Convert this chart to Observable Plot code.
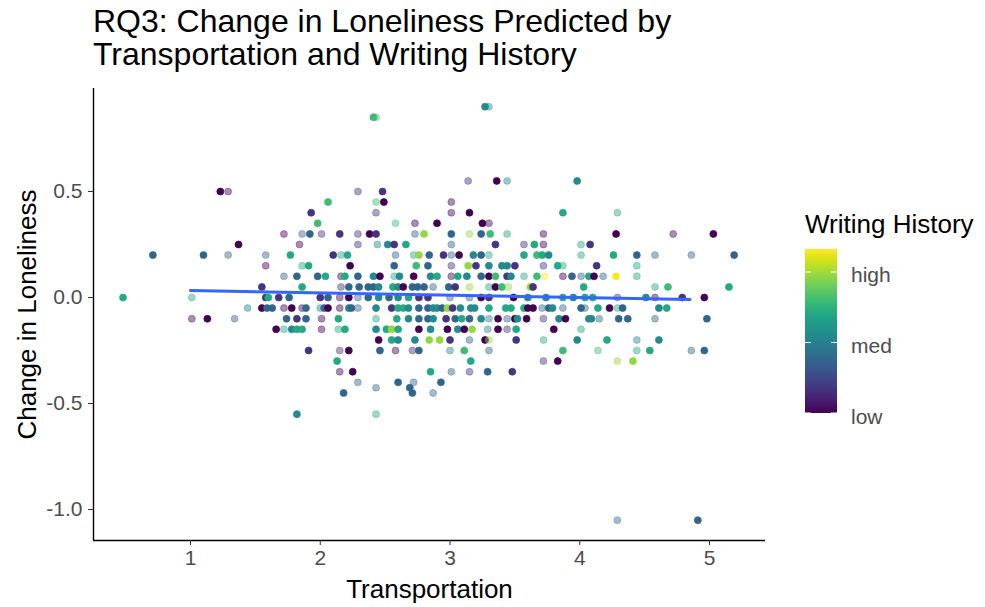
<!DOCTYPE html>
<html>
<head>
<meta charset="utf-8">
<script src="https://cdn.jsdelivr.net/npm/d3@7"></script>
<script src="https://cdn.jsdelivr.net/npm/@observablehq/plot@0.6"></script>
<style>
  body { margin: 0; background: #fff; font-family: "Liberation Sans", Arial, Helvetica, sans-serif; }
  #wrap { position: relative; width: 985px; height: 607px; overflow: hidden; }
  #title { position: absolute; left: 93px; top: 5px; font-size: 32px; line-height: 33px; color: #000; white-space: nowrap; }
  #plot { position: absolute; left: 0; top: 80px; }
  #legend { position: absolute; left: 790px; top: 80px; }
</style>
</head>
<body>
<div id="wrap">
  <div id="title">RQ3: Change in Loneliness Predicted by<br>Transportation and Writing History</div>
  <div id="plot"></div>
  <div id="legend"></div>
</div>
<script>
// ---- Data ----
// Change in loneliness levels; each level has its own list of observations
const lonelinessLevels = [0.9, 0.85, 0.55, 0.5, 0.45, 0.4, 0.35, 0.3, 0.25, 0.2, 0.15, 0.1, 0.05, 0,
  -0.05, -0.1, -0.15, -0.2, -0.25, -0.3, -0.35, -0.4, -0.425, -0.45, -0.55, -1.05];

const transportByLevel = [
  [3.27, 3.30],
  [2.41, 2.43],
  [3.14, 3.36, 3.44, 3.98],
  [1.23, 1.29, 2.29, 2.48],
  [2.06, 2.43, 2.49, 3.01],
  [1.93, 2.43, 3.01, 3.15, 3.87, 4.29],
  [1.98, 2.58, 2.73, 2.90, 3.25, 3.30],
  [1.72, 1.86, 1.92, 2.01, 2.15, 2.29, 2.38, 2.43, 2.73, 2.80, 3.01, 3.15, 3.24, 3.31, 3.44, 3.72, 4.28, 4.72, 5.03],
  [1.37, 1.84, 2.29, 2.44, 2.52, 2.57, 2.66, 3.01, 3.35, 3.57, 3.65, 3.72, 4.01, 4.08],
  [0.71, 1.10, 1.29, 1.58, 1.77, 2.10, 2.16, 2.21, 2.58, 2.72, 2.76, 2.84, 2.95, 3.01, 3.07, 3.18, 3.24, 3.30, 3.57, 3.67, 3.71, 3.76, 4.01, 4.26, 4.44, 4.58, 4.86, 5.19],
  [1.58, 1.86, 1.91, 2.23, 2.57, 2.74, 2.83, 3.01, 3.14, 3.20, 3.30, 3.40, 3.44, 3.50, 3.72, 3.83, 3.87, 4.13, 4.44],
  [1.72, 1.82, 1.98, 2.04, 2.16, 2.19, 2.29, 2.41, 2.46, 2.57, 2.61, 2.72, 2.85, 2.90, 3.01, 3.06, 3.13, 3.24, 3.30, 3.35, 3.44, 3.47, 3.57, 3.67, 3.73, 3.87, 3.94, 4.01, 4.07, 4.11, 4.18, 4.28, 4.44],
  [1.55, 1.86, 2.16, 2.22, 2.30, 2.37, 2.41, 2.45, 2.56, 2.60, 2.64, 2.71, 2.75, 2.80, 2.87, 2.99, 3.04, 3.15, 3.30, 3.35, 3.40, 3.45, 3.62, 3.64, 4.03, 4.58, 4.68, 5.15],
  [0.48, 1.01, 1.58, 1.60, 1.68, 1.76, 2.00, 2.06, 2.15, 2.22, 2.29, 2.37, 2.45, 2.53, 2.60, 2.68, 2.76, 2.83, 3.00, 3.15, 3.24, 3.30, 3.49, 3.60, 3.74, 3.87, 3.95, 4.04, 4.10, 4.29, 4.51, 4.58, 4.79, 4.96],
  [1.44, 1.55, 1.59, 1.63, 1.72, 1.78, 1.86, 1.89, 2.00, 2.03, 2.06, 2.15, 2.22, 2.24, 2.29, 2.43, 2.55, 2.60, 2.64, 2.68, 2.76, 2.83, 2.87, 2.90, 2.94, 2.98, 3.02, 3.08, 3.16, 3.19, 3.30, 3.43, 3.47, 3.57, 3.60, 3.64, 3.71, 3.76, 3.79, 3.87, 4.01, 4.04, 4.14, 4.23, 4.29, 4.33, 4.61, 4.67],
  [1.01, 1.13, 1.34, 1.74, 1.82, 1.89, 2.01, 2.14, 2.43, 2.59, 2.68, 2.76, 2.83, 2.87, 2.97, 3.04, 3.09, 3.15, 3.24, 3.30, 3.37, 3.44, 3.50, 3.52, 3.59, 3.72, 3.84, 3.89, 4.07, 4.09, 4.15, 4.30, 4.37, 4.58, 4.98],
  [1.66, 1.72, 1.78, 1.82, 1.86, 2.01, 2.14, 2.19, 2.43, 2.51, 2.55, 2.60, 2.76, 2.85, 2.98, 3.06, 3.11, 3.17, 3.29, 3.37, 3.44, 3.51, 3.80, 4.01],
  [2.45, 2.55, 2.60, 2.73, 2.84, 2.92, 3.00, 3.15, 3.27, 3.30, 3.51, 3.72, 3.98, 4.21, 4.44, 4.61],
  [1.91, 2.15, 2.22, 2.46, 2.58, 2.71, 2.76, 3.00, 3.11, 3.30, 3.87, 4.14, 4.44, 4.54, 4.86, 4.96],
  [2.13, 3.16, 3.72, 3.83, 4.29, 4.41],
  [2.15, 2.25, 2.85, 3.01, 3.15, 3.29, 3.48],
  [2.29, 2.60, 2.72, 2.93],
  [2.43, 2.69],
  [2.18, 2.71, 2.87],
  [1.82, 2.43],
  [4.29, 4.91]
];

const writingByLevel = [
  [2.1, 2.1],
  [2.6, 2.6],
  [1.35, 1, 2.1, 2.1],
  [1, 1, 1.35, 1.35],
  [2.6, 2.6, 1, 1],
  [1.35, 1.35, 1, 1, 2.4, 2.4],
  [2.6, 2.6, 1, 1, 1, 1],
  [1, 1.75, 1.75, 1.35, 1.35, 1.35, 1, 1.35, 1.75, 2.95, 1.75, 2.95, 1.75, 2.6, 2.4, 1, 1, 1, 1],
  [1, 1, 1.35, 2.1, 2.1, 1.35, 2.4, 1.75, 1.35, 1.35, 2.4, 1, 2.4, 1.35],
  [1.75, 1.75, 1.75, 1.75, 2.4, 1.35, 2.4, 2.4, 1.75, 2.4, 2.95, 1.75, 1.35, 1.75, 1, 2.1, 1.75, 2.4, 2.4, 2.6, 2.4, 2.1, 2.4, 2.4, 1.75, 1.75, 1.75, 1.75],
  [1, 2.4, 2.4, 1, 1.75, 2.6, 1.75, 1.35, 2.95, 1.35, 2.1, 2.1, 2.1, 1.35, 1.35, 2.4, 2.4, 1.35, 2.4],
  [1.75, 1.75, 1.75, 2.4, 1, 2.4, 1.75, 2.1, 1, 2.4, 2.1, 1, 2.1, 2.4, 1, 2.4, 2.1, 1.75, 1, 2.6, 1.35, 2.1, 2.4, 2.6, 3.33, 1, 1.75, 1.75, 2.4, 1, 1.75, 3.33, 2.4],
  [1.35, 2.4, 1.35, 1.75, 1.75, 1.75, 1.75, 2.1, 2.4, 2.1, 1, 1.75, 1.75, 1.75, 1.75, 1.75, 1.35, 2.95, 2.4, 1, 2.6, 2.95, 2.95, 1.35, 2.4, 2.4, 2.6, 2.4],
  [2.4, 2.4, 1.35, 2.4, 1.35, 1.75, 1.35, 1.75, 1, 1, 1.75, 1.75, 2.1, 1.75, 2.1, 2.4, 1.35, 1.35, 1.75, 1.75, 1, 1.35, 1, 2.1, 2.1, 2.4, 2.1, 2.4, 2.4, 1.35, 2.1, 1, 1.35, 1],
  [2.1, 1, 1.75, 1.75, 1, 1, 1, 1.75, 2.1, 1.75, 1, 1, 2.1, 1.75, 1.75, 2.1, 1.35, 2.4, 2.4, 2.1, 1.75, 1.75, 2.1, 2.1, 1.75, 2.95, 1.35, 2.1, 2.1, 2.1, 2.4, 2.4, 2.4, 2.4, 1, 1, 1.75, 1.75, 2.1, 1.75, 1.75, 1.75, 2.4, 1, 2.4, 1.75, 2.1, 2.4],
  [1, 1, 1.75, 1.75, 1.35, 1.75, 1, 2.4, 2.4, 2.4, 2.1, 1.75, 1.75, 2.1, 1.35, 1.75, 2.4, 1.75, 2.1, 2.1, 1, 1.75, 1, 2.1, 1, 1.35, 2.1, 1, 2.1, 2.1, 1.75, 1.75, 1.75, 1.75, 1.75],
  [1, 2.4, 2.1, 2.4, 2.4, 1, 2.4, 2.4, 2.1, 2.4, 2.95, 2.4, 1, 2.1, 1, 2.1, 1, 2.95, 2.1, 1, 1.35, 2.4, 1, 2.4],
  [1, 2.4, 2.1, 2.1, 2.95, 2.95, 1.35, 1.75, 1, 2.95, 1.35, 2.4, 2.1, 2.4, 2.1, 2.1],
  [1.35, 1.35, 1, 1.75, 1, 1.35, 1.75, 2.1, 2.6, 1.75, 2.6, 2.6, 2.4, 2.4, 1.75, 1.75],
  [2.4, 2.4, 1.35, 1, 2.95, 2.95],
  [1, 1, 2.4, 1.75, 1.35, 1.75, 1.35],
  [1.75, 1.75, 1.75, 1.75],
  [1.75, 1.75],
  [1.75, 1.75, 1.75],
  [2.1, 2.4],
  [1.75, 1.75]
];

// second-wave flag (drawn lighter in the reference)
const fadedByLevel = [
  [0, 1],
  [0, 1],
  [1, 0, 1, 0],
  [0, 1, 1, 0],
  [0, 1, 0, 1],
  [0, 1, 1, 0, 0, 1],
  [0, 1, 1, 0, 0, 1],
  [1, 1, 0, 1, 0, 1, 0, 0, 1, 0, 0, 1, 0, 0, 1, 1, 0, 1, 0],
  [0, 1, 1, 1, 0, 0, 0, 1, 0, 1, 0, 1, 1, 0],
  [0, 0, 1, 1, 0, 0, 1, 0, 1, 1, 0, 0, 0, 1, 0, 0, 0, 1, 0, 0, 0, 0, 1, 0, 0, 1, 1, 0],
  [1, 1, 0, 0, 0, 0, 0, 1, 0, 0, 0, 0, 0, 0, 1, 0, 1, 0, 1],
  [1, 0, 0, 0, 1, 0, 0, 0, 0, 1, 0, 0, 0, 0, 1, 0, 0, 0, 0, 0, 0, 0, 1, 0, 1, 1, 0, 1, 0, 0, 1, 0, 1],
  [0, 0, 1, 0, 0, 0, 0, 0, 0, 0, 0, 0, 0, 0, 1, 0, 0, 1, 1, 0, 0, 1, 0, 0, 0, 1, 0, 0],
  [0, 1, 0, 0, 0, 0, 0, 0, 1, 0, 1, 0, 0, 0, 0, 0, 0, 0, 1, 1, 0, 0, 0, 0, 0, 0, 0, 0, 0, 1, 0, 1, 0, 0],
  [1, 0, 0, 0, 1, 0, 1, 0, 1, 0, 0, 1, 0, 0, 1, 0, 0, 0, 0, 0, 0, 0, 0, 0, 0, 0, 0, 0, 0, 0, 0, 0, 0, 0, 0, 0, 1, 0, 0, 1, 0, 1, 0, 0, 1, 0, 0, 0],
  [1, 0, 1, 0, 0, 0, 1, 0, 1, 0, 0, 0, 0, 0, 0, 0, 0, 0, 0, 1, 0, 1, 0, 0, 0, 1, 0, 0, 0, 0, 1, 0, 0, 1, 0],
  [0, 1, 0, 0, 0, 1, 1, 0, 0, 0, 0, 0, 0, 0, 0, 0, 0, 0, 1, 0, 1, 0, 0, 1],
  [0, 0, 0, 0, 0, 0, 0, 1, 0, 1, 0, 1, 0, 0, 1, 0],
  [0, 1, 0, 0, 1, 1, 0, 1, 0, 1, 0, 1, 1, 0, 1, 0],
  [0, 0, 1, 0, 1, 0],
  [1, 0, 0, 1, 1, 0, 0],
  [1, 0, 1, 0],
  [1, 0],
  [0, 0, 1],
  [0, 1],
  [1, 0]
];

// Fitted linear trend (as drawn in the reference)
const fitTransport = [1, 4.85];
const fitLoneliness = [0.033, -0.009];

// Legend / scale labels
const writingTicks = [1, 2, 3];
const writingTickLabels = ["low", "med", "high"];
const writingRange = [1, 3.326];
const xTicks = [1, 2, 3, 4, 5];
const yTicks = [-1, -0.5, 0, 0.5];

// ---- Build table ----
const points = [];
lonelinessLevels.forEach((lv, i) => {
  transportByLevel[i].forEach((t, j) => {
    points.push({transport: t, loneliness: lv, writing: writingByLevel[i][j], faded: fadedByLevel[i][j]});
  });
});
const fit = fitTransport.map((t, i) => ({transport: t, loneliness: fitLoneliness[i]}));

const xDomain = [0.2524, 5.4316];
const yDomain = [-1.146, 0.9858];
const tickFont = 21;

const plot = Plot.plot({
  width: 790,
  height: 527,
  marginLeft: 93,
  marginRight: 25,
  marginTop: 8,
  marginBottom: 67,
  style: {fontFamily: '"Liberation Sans", Arial, Helvetica, sans-serif', background: "white", overflow: "visible"},
  x: {domain: xDomain},
  y: {domain: yDomain},
  color: {type: "linear", scheme: "viridis", domain: writingRange},
  opacity: {type: "identity"},
  marks: [
    Plot.dot(points, {
      x: "transport", y: "loneliness", fill: "writing", stroke: "writing",
      r: 3.5, strokeWidth: 0.7,
      fillOpacity: d => d.faded ? 0.45 : 1,
      strokeOpacity: d => d.faded ? 0.45 : 1
    }),
    Plot.line(fit, {x: "transport", y: "loneliness", stroke: "#3366FF", strokeWidth: 3}),
    Plot.ruleX([xDomain[0]], {stroke: "#000", strokeWidth: 1.4}),
    Plot.ruleY([yDomain[0]], {stroke: "#000", strokeWidth: 1.4}),
    Plot.axisX({ticks: xTicks, tickSize: 5, tickPadding: 5, fontSize: tickFont, fill: "#4d4d4d", stroke: "#333", label: null, tickFormat: d => String(d)}),
    Plot.axisY({ticks: yTicks, tickSize: 5, tickPadding: 6, fontSize: tickFont, fill: "#4d4d4d", stroke: "#333", label: null, tickFormat: d => d.toFixed(1)}),
    Plot.text(["Transportation"], {frameAnchor: "bottom", dy: 57, lineAnchor: "bottom", fontSize: 26, fill: "#000"}),
    Plot.text(["Change in Loneliness"], {frameAnchor: "left", dx: -66, rotate: -90, textAnchor: "middle", lineAnchor: "middle", fontSize: 26, fill: "#000"})
  ]
});
document.getElementById("plot").appendChild(plot);

// ---- Vertical colour-bar legend ----
const colorScale = Plot.scale({color: {type: "linear", scheme: "viridis", domain: writingRange}});
const lw = 195, lh = 527;
const barX = 15, barW = 32, barTop = 169, barBottom = 333;
const ly = d3.scaleLinear().domain(writingRange).range([barBottom, barTop]);
const lsvg = d3.create("svg").attr("width", lw).attr("height", lh)
  .attr("font-family", '"Liberation Sans", Arial, Helvetica, sans-serif');
const grad = lsvg.append("defs").append("linearGradient").attr("id", "wgrad")
  .attr("x1", 0).attr("y1", 1).attr("x2", 0).attr("y2", 0);
d3.range(0, 1.0001, 0.05).forEach(t => {
  const v = writingRange[0] + t * (writingRange[1] - writingRange[0]);
  grad.append("stop").attr("offset", t).attr("stop-color", colorScale.apply(v));
});
lsvg.append("text").attr("x", barX).attr("y", 153).attr("font-size", 26).attr("fill", "#000").text("Writing History");
lsvg.append("rect").attr("x", barX).attr("y", barTop).attr("width", barW).attr("height", barBottom - barTop).attr("fill", "url(#wgrad)");
writingTicks.forEach((v, i) => {
  const y = ly(v);
  lsvg.append("line").attr("x1", barX).attr("x2", barX + 6).attr("y1", y).attr("y2", y).attr("stroke", "white").attr("stroke-width", 1);
  lsvg.append("line").attr("x1", barX + barW - 6).attr("x2", barX + barW).attr("y1", y).attr("y2", y).attr("stroke", "white").attr("stroke-width", 1);
  lsvg.append("text").attr("x", barX + barW + 14).attr("y", y).attr("dy", "0.5em").attr("font-size", tickFont).attr("fill", "#4d4d4d").text(writingTickLabels[i]);
});
document.getElementById("legend").appendChild(lsvg.node());
</script>
</body>
</html>
